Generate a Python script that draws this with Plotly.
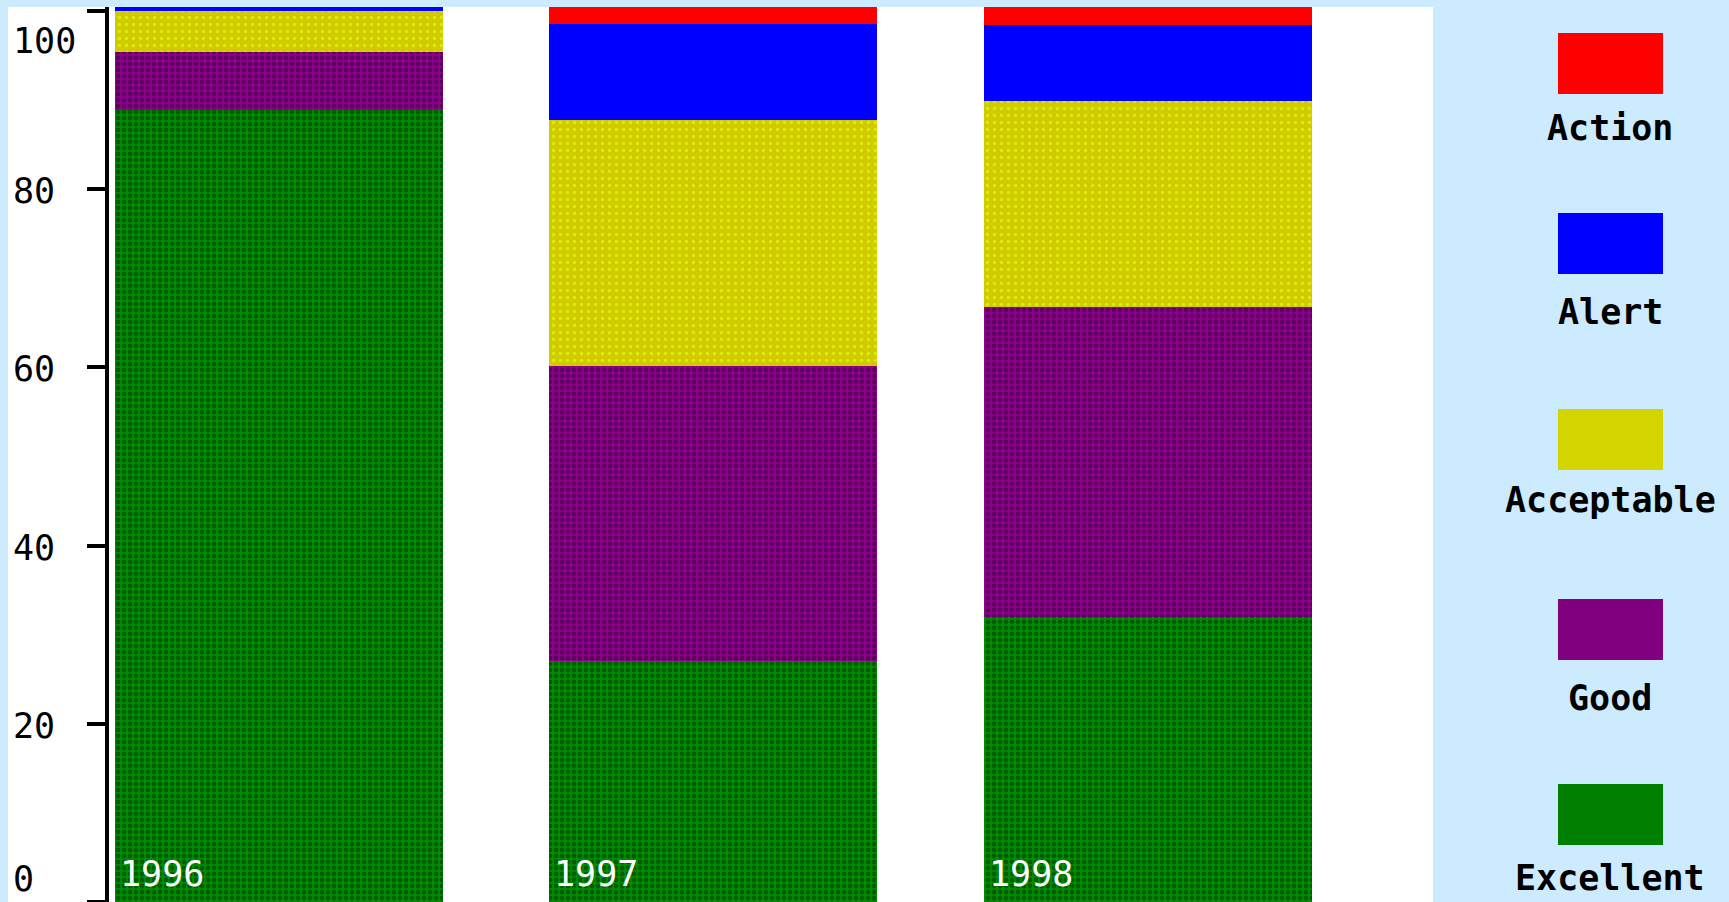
import plotly.graph_objects as go

# Survey results per year, stacked
years = ["1996", "1997", "1998"]
excellent = [88.9, 27.0, 32.0]
good = [6.5, 33.2, 34.8]
acceptable = [4.6, 27.6, 23.1]
alert = [0.45, 10.7, 8.5]
action = [0.0, 2.0, 2.0]

y_ticks = [0, 20, 40, 60, 80, 100]

# stacking order bottom -> top
series = [
    ("Excellent", excellent, "#008000", dict(shape=".", fgcolor="#005E00", bgcolor="#008E00", size=6, solidity=0.5)),
    ("Good", good, "#800080", dict(shape=".", fgcolor="#5E005E", bgcolor="#8E008E", size=6, solidity=0.5)),
    ("Acceptable", acceptable, "#D4D400", dict(shape=".", fgcolor="#D8F000", bgcolor="#D2CA00", size=7, solidity=0.2)),
    ("Alert", alert, "#0000FF", None),
    ("Action", action, "#FF0000", None),
]

W, H = 1729, 902
L, R, T, B = 109, 296, 7, 0
PW, PH = W - L - R, H - T - B
X_RANGE = [-0.391, 2.656]
Y_RANGE = [0, 100.45]
BAR_W = 0.755
FONT = "DejaVu Sans Mono"

# legend layout (pixels from the top): swatch tops and label centres
LEG_TOPS = [33, 213, 409, 599, 784]
LEG_LABEL_Y = [128, 312, 500, 698, 878]
LEG_CX = 1610


def px_x(px):
    return (px - L) / PW


def px_y(py):
    return (H - B - py) / PH


fig = go.Figure()
xs = list(range(len(years)))
for name, vals, color, pat in series:
    marker = dict(color=color, line=dict(width=0))
    if pat:
        marker["pattern"] = dict(fillmode="replace", **pat)
    fig.add_trace(go.Bar(x=xs, y=vals, name=name, width=BAR_W, marker=marker,
                         showlegend=False, hoverinfo="y+name"))

shapes = [
    # white panel behind the axis and bars
    dict(type="rect", xref="paper", yref="paper", x0=px_x(8), x1=1, y0=0, y1=1,
         fillcolor="white", line=dict(width=0), layer="below"),
]
annotations = []

# year labels inside each bar
for i, yr in enumerate(years):
    annotations.append(dict(x=i - BAR_W / 2, y=0, xref="x", yref="y", text=yr,
                            xanchor="left", yanchor="bottom", xshift=3, yshift=6,
                            showarrow=False, font=dict(family=FONT, size=35, color="white")))

# y tick labels, kept inside the panel at the ends
for v in y_ticks:
    shift = -30 if v == y_ticks[-1] else (23 if v == y_ticks[0] else -2)
    annotations.append(dict(x=px_x(11), y=v, xref="paper", yref="y", text=str(v),
                            xanchor="left", yanchor="middle", yshift=shift,
                            showarrow=False, font=dict(family=FONT, size=35, color="black")))

# legend: swatch with its name underneath, Action at the top
for k, (name, vals, color, pat) in enumerate(reversed(series)):
    top = LEG_TOPS[k]
    shapes.append(dict(type="rect", xref="paper", yref="paper",
                       x0=px_x(LEG_CX - 52), x1=px_x(LEG_CX + 53), y0=px_y(top + 61), y1=px_y(top),
                       fillcolor=color, line=dict(width=0)))
    annotations.append(dict(x=px_x(LEG_CX), y=px_y(LEG_LABEL_Y[k]), xref="paper", yref="paper",
                            text="<b>%s</b>" % name, xanchor="center", yanchor="middle",
                            showarrow=False, font=dict(family=FONT, size=35, color="black")))

fig.update_layout(
    width=W, height=H,
    margin=dict(l=L, r=R, t=T, b=B, pad=0),
    paper_bgcolor="#CCEBFF",
    plot_bgcolor="white",
    barmode="stack",
    shapes=shapes,
    annotations=annotations,
    xaxis=dict(range=X_RANGE, showticklabels=False, showgrid=False, zeroline=False,
               showline=False, ticks="", fixedrange=True),
    yaxis=dict(range=Y_RANGE, tickvals=y_ticks, showticklabels=False,
               showgrid=False, zeroline=False, showline=True, linecolor="black",
               linewidth=4, ticks="outside", ticklen=18, tickwidth=4, tickcolor="black",
               fixedrange=True),
)

fig.write_html("out.html", config={"displayModeBar": False})
